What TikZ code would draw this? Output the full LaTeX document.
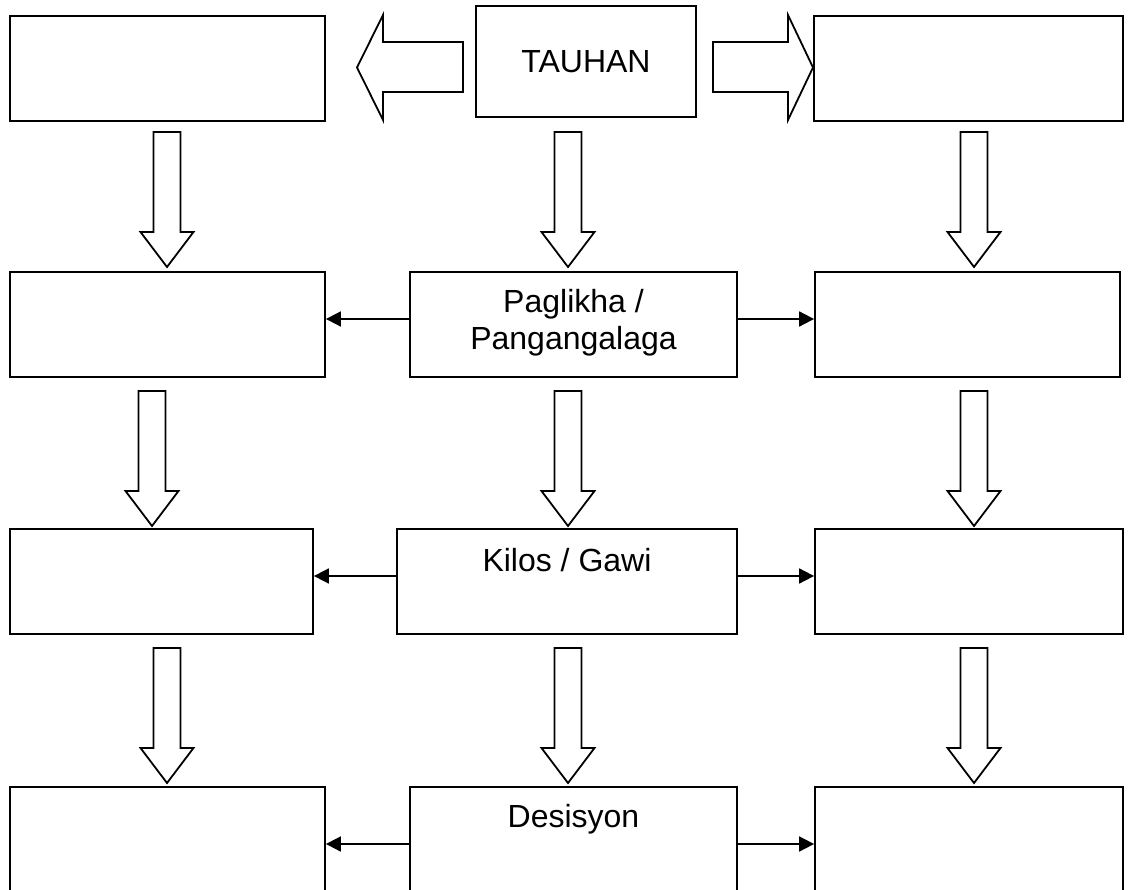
\documentclass[tikz,border=0pt]{standalone}
\usepackage{fontspec}
\setmainfont{Liberation Sans}
\usetikzlibrary{arrows.meta,calc}
\tikzset{
  box/.style={draw, line width=1.8pt, rectangle, inner sep=0pt, fill=white},
  con/.style={line width=1.8pt, -{Triangle[length=15pt,width=15pt]}},
  blk/.style={draw, line width=1.8pt, line join=miter, fill=white},
  txt/.style={font=\fontsize{32}{36}\selectfont, inner sep=0pt, align=center},
}
\newcommand\bx[5]{\node[box, minimum width={(#4)-(#2)}, minimum height={(#5)-(#3)}] (#1) at ({((#2)+(#4))/2},{((#3)+(#5))/2}) {};}
\newcommand\vblk[2]{\draw[blk] ({#1-13.5},{#2}) -- ({#1+13.5},{#2}) -- ({#1+13.5},{#2+100}) -- ({#1+26.5},{#2+100}) -- ({#1},{#2+135}) -- ({#1-26.5},{#2+100}) -- ({#1-13.5},{#2+100}) -- cycle;}
\begin{document}
\begin{tikzpicture}[x=1pt,y=-1pt]
\useasboundingbox (0,0) rectangle (1132,890);
\clip (0,0) rectangle (1132,890);
% boxes
\bx{l1}{10}{16}{325}{121}
\bx{m1}{476}{6}{696}{117}
\bx{r1}{814}{16}{1123}{121}
\bx{l2}{10}{272}{325}{377}
\bx{m2}{410}{272}{737}{377}
\bx{r2}{815}{272}{1120}{377}
\bx{l3}{10}{529}{313}{634}
\bx{m3}{397}{529}{737}{634}
\bx{r3}{815}{529}{1123}{634}
\bx{l4}{10}{787}{325}{895}
\bx{m4}{410}{787}{737}{895}
\bx{r4}{815}{787}{1123}{895}
% top block arrows
\draw[blk] (463,42) -- (383,42) -- (383,15) -- (357,67.5) -- (383,120) -- (383,92) -- (463,92) -- cycle;
\draw[blk] (713,42) -- (788,42) -- (788,15) -- (813,67.5) -- (788,120) -- (788,92) -- (713,92) -- cycle;
% vertical block arrows
\vblk{167}{132} \vblk{568}{132} \vblk{974}{132}
\vblk{152}{391} \vblk{568}{391} \vblk{974}{391}
\vblk{167}{648} \vblk{568}{648} \vblk{974}{648}
% texts
\node[txt] (t1) at (m1.center) {TAUHAN};
\node[txt, anchor=base] (t2) at (573.5,349) {Paglikha /\\Pangangalaga};
\node[txt, anchor=base] (t3) at (567,571) {Kilos / Gawi};
\node[txt, anchor=base] (t4) at (573.5,827) {Desisyon};
% connectors
\draw[con] (m2.west |- 0,319) -- (l2.east |- 0,319);
\draw[con] (m2.east |- 0,319) -- (r2.west |- 0,319);
\draw[con] (m3.west |- 0,576) -- (l3.east |- 0,576);
\draw[con] (m3.east |- 0,576) -- (r3.west |- 0,576);
\draw[con] (m4.west |- 0,844) -- (l4.east |- 0,844);
\draw[con] (m4.east |- 0,844) -- (r4.west |- 0,844);
\end{tikzpicture}
\end{document}
